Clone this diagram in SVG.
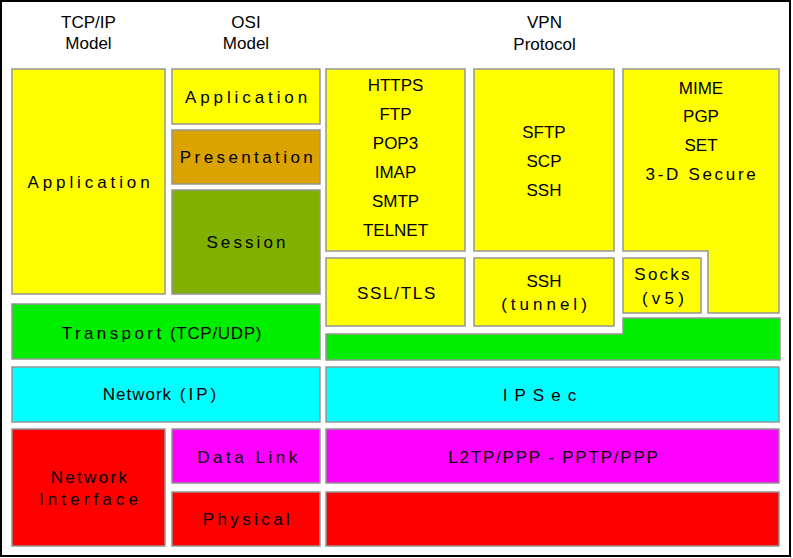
<svg xmlns="http://www.w3.org/2000/svg" width="793" height="558" viewBox="0 0 793 558">
<style>
.b{stroke:#959595;stroke-width:1.5}
.y{fill:#ffff00}.o{fill:#dba300}.s{fill:#80b000}.g{fill:#00ee00}.c{fill:#00ffff}.m{fill:#ff00ff}.r{fill:#ff0000}
text{font-family:"Liberation Sans",Arial,sans-serif;font-size:17px;fill:#000;text-anchor:middle}
.h{font-size:17px}
</style>
<rect x="1" y="1" width="789" height="555" fill="#fff" stroke="#000" stroke-width="2"/>
<g id="headers">
<text class="h" x="88.5" y="28">TCP/IP</text><text class="h" x="88.5" y="49">Model</text>
<text class="h" x="246" y="28">OSI</text><text class="h" x="246" y="49">Model</text>
<text class="h" x="544.5" y="28">VPN</text><text class="h" x="544.5" y="50">Protocol</text>
</g>
<g id="tcp-application"><rect class="b y" x="12" y="69" width="153" height="225"/><text x="90.5" y="188" letter-spacing="3.9">Application</text></g>
<g id="osi-application"><rect class="b y" x="172" y="69" width="148" height="55"/><text x="248" y="103" letter-spacing="3.9">Application</text></g>
<g id="osi-presentation"><rect class="b o" x="172" y="130" width="148" height="54"/><text x="248" y="163" letter-spacing="3.4">Presentation</text></g>
<g id="osi-session"><rect class="b s" x="172" y="190" width="148" height="104"/><text x="247.5" y="248" letter-spacing="3.1">Session</text></g>
<g id="app-protocols"><rect class="b y" x="326" y="69" width="139" height="182"/>
<text x="395.5" y="91">HTTPS</text><text x="395.5" y="120">FTP</text><text x="395.5" y="149">POP3</text><text x="395.5" y="178">IMAP</text><text x="395.5" y="207">SMTP</text><text x="395.5" y="236">TELNET</text></g>
<g id="ssh-protocols"><rect class="b y" x="474" y="69" width="140" height="182"/>
<text x="544" y="138">SFTP</text><text x="544" y="167">SCP</text><text x="544" y="196">SSH</text></g>
<g id="mail-protocols"><path class="b y" d="M623 69H779V313H708V251H623Z"/>
<text x="701" y="94">MIME</text><text x="701" y="122">PGP</text><text x="701" y="151">SET</text><text x="702" y="180" letter-spacing="2.7">3-D Secure</text></g>
<g id="ssl-tls"><rect class="b y" x="326" y="258" width="139" height="68"/><text x="397" y="299" letter-spacing="1.7">SSL/TLS</text></g>
<g id="ssh-tunnel"><rect class="b y" x="474" y="258" width="140" height="68"/><text x="544" y="287">SSH</text><text x="546" y="310" letter-spacing="4">(tunnel)</text></g>
<g id="socks"><rect class="b y" x="623" y="258" width="78" height="55"/><text x="663" y="280" letter-spacing="2.2">Socks</text><text x="665" y="304" letter-spacing="4.2">(v5)</text></g>
<g id="transport"><rect class="b g" x="12" y="304" width="308" height="55"/><text x="162" y="339"><tspan letter-spacing="3.4">Transport</tspan><tspan letter-spacing="0.7"> (TCP/UDP)</tspan></text></g>
<g id="vpn-transport"><path class="b g" d="M326 334H623V318H780V360H326Z"/></g>
<g id="network"><rect class="b c" x="12" y="367" width="308" height="55"/><text x="161" y="400"><tspan letter-spacing="1">Network</tspan><tspan letter-spacing="3"> (IP)</tspan></text></g>
<g id="ipsec"><rect class="b c" x="326" y="367" width="453" height="55"/><text x="543" y="401" letter-spacing="7">IPSec</text></g>
<g id="network-interface"><rect class="b r" x="12" y="429" width="153" height="117"/><text x="90" y="483" letter-spacing="2.3">Network</text><text x="90.5" y="505" letter-spacing="4.1">Interface</text></g>
<g id="data-link"><rect class="b m" x="172" y="429" width="148" height="54"/><text x="249" y="463" letter-spacing="3.5">Data Link</text></g>
<g id="physical"><rect class="b r" x="172" y="492" width="148" height="54"/><text x="248" y="525" letter-spacing="3.4">Physical</text></g>
<g id="l2tp"><rect class="b m" x="326" y="429" width="453" height="54"/><text x="554" y="463" letter-spacing="1.8">L2TP/PPP - PPTP/PPP</text></g>
<g id="vpn-physical"><rect class="b r" x="326" y="492" width="453" height="54"/></g>
<g id="connectors"/>
</svg>
